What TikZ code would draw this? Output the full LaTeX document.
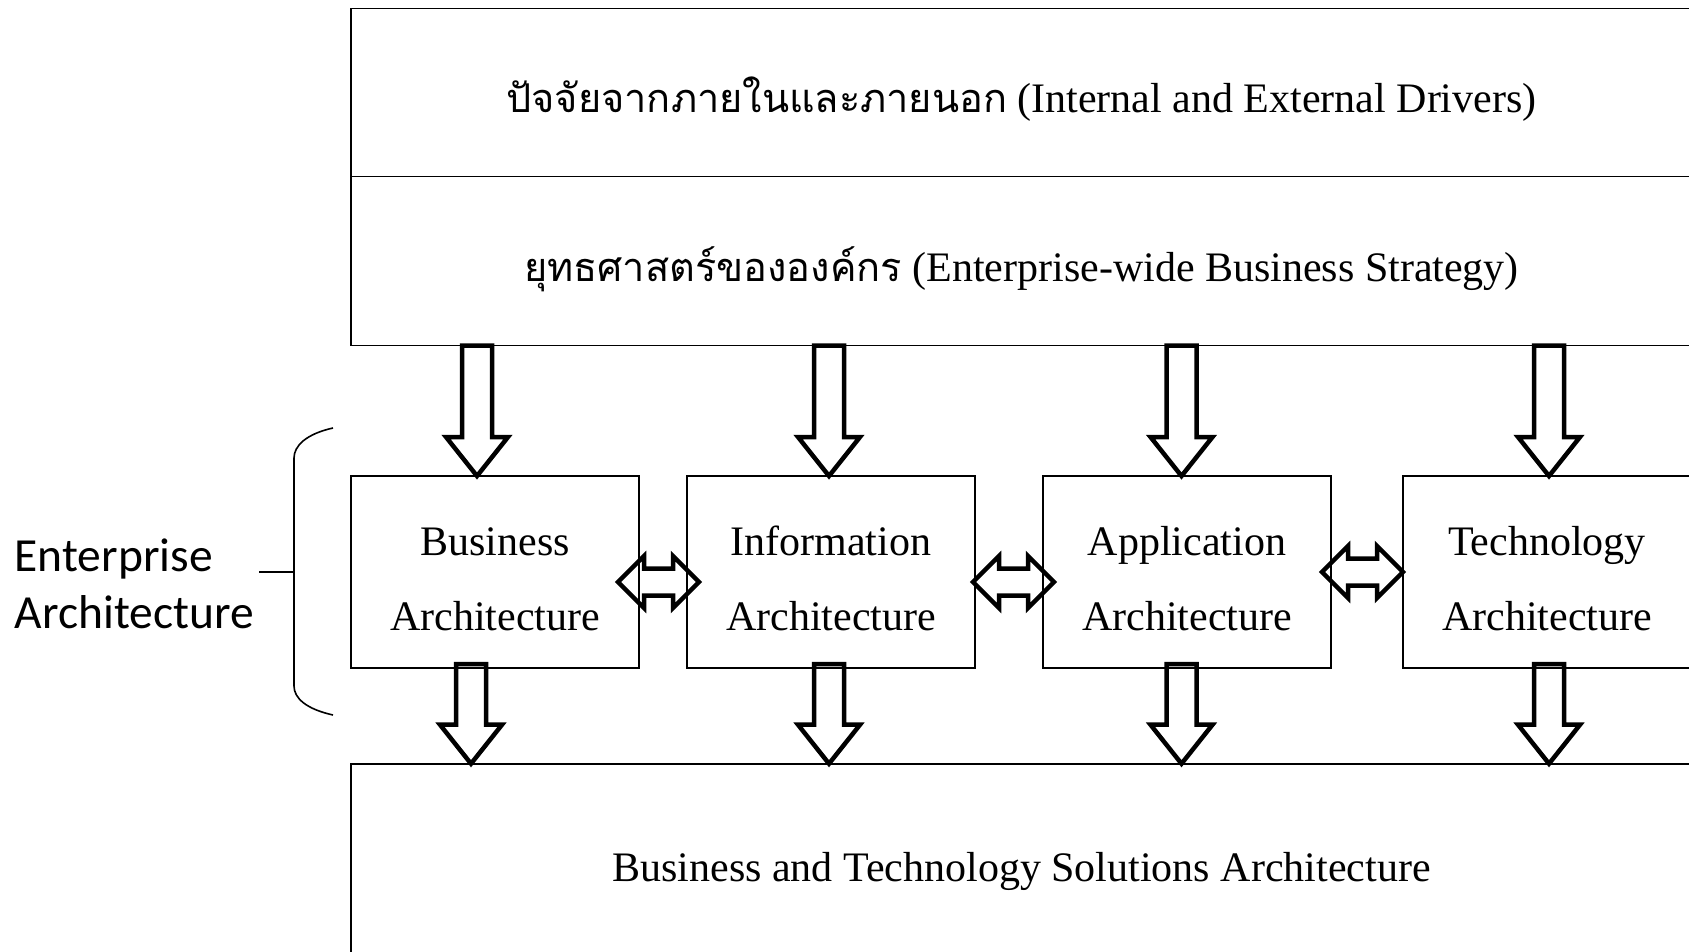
\documentclass[tikz,border=0pt]{standalone}
\usepackage{fontspec}
\setmainfont{Liberation Serif}
\newfontfamily\thaifont[Script=Thai,Scale=0.945]{Loma}
\newfontfamily\eafont{Carlito}
\usetikzlibrary{positioning,calc}

\begin{document}
\begin{tikzpicture}[x=1pt,y=-1pt,line width=1.6pt,
  widebox/.style={draw,minimum width=1341pt,inner sep=0pt,outer sep=0pt,
    text height=40pt,text depth=0pt,font=\fontsize{42}{50}\selectfont},
  archbox/.style={draw,minimum width=288pt,minimum height=192pt,inner sep=0pt,
    outer sep=0pt,align=center,font=\fontsize{42}{75}\selectfont,
    text height=117pt,text depth=0pt},
  eatext/.style={inner sep=0pt,align=left,font=\eafont\fontsize{47.5}{57}\selectfont},
  fatdown/.style={line width=4.5pt,to path={let \p1=(\tikztostart),\p2=(\tikztotarget) in
    (\x1-15pt,\y1) -- (\x1+15pt,\y1) -- (\x1+15pt,\y2+39pt) -- (\x1+31pt,\y2+39pt)
    -- (\x1,\y2) -- (\x1-31pt,\y2+39pt) -- (\x1-15pt,\y2+39pt) -- cycle}},
  fatboth/.style={line width=4.5pt,to path={let \p1=(\tikztostart),\p2=(\tikztotarget) in
    (\x1,\y1) -- (\x1+26pt,\y1-26pt) -- (\x1+26pt,\y1-13.5pt) -- (\x2-26pt,\y1-13.5pt)
    -- (\x2-26pt,\y1-26pt) -- (\x2,\y1) -- (\x2-26pt,\y1+26pt) -- (\x2-26pt,\y1+13.5pt)
    -- (\x1+26pt,\y1+13.5pt) -- (\x1+26pt,\y1+26pt) -- cycle}}]
\useasboundingbox (0,0) rectangle (1689,952);

% outer layers
\node[widebox,minimum height=168pt] (drv) at (1021.5,92.6)
  {{\thaifont ปัจจัยจากภายในและภายนอก} (Internal and External Drivers)};
\node[widebox,minimum height=169pt,below=0pt of drv] (strat)
  {{\thaifont ยุทธศาสตร์ขององค์กร} (Enterprise-wide Business Strategy)};
\node[widebox,minimum height=195pt] (sol) at (1021.5,861.2)
  {Business and Technology Solutions Architecture};

% architecture boxes
\node[archbox] (bus) at (495,572) {Business\\Architecture};
\node[archbox,right=48pt of bus] (info) {Information\\Architecture};
\node[archbox,right=68pt of info] (app) {Application\\Architecture};
\node[archbox,right=72pt of app] (tech) {Technology\\Architecture};

% brace
\node[eatext,anchor=west] (ea) at (14,583.7) {Enterprise\\Architecture};
\coordinate (brace) at (294,572);
\draw (333,428) .. controls (306,434) and (294,446) .. (294,458) -- (294,686)
  .. controls (294,698) and (306,709) .. (333,715);
\draw ([xshift=5pt]ea.east |- brace) -- (brace);

% arrows
\draw[fatdown] ([xshift=-18pt]bus.north |- strat.south) to ([xshift=-18pt]bus.north);
\draw[fatdown] ([xshift=-2pt]info.north |- strat.south) to ([xshift=-2pt]info.north);
\draw[fatdown] ([xshift=-5.5pt]app.north |- strat.south) to ([xshift=-5.5pt]app.north);
\draw[fatdown] ([xshift=2pt]tech.north |- strat.south) to ([xshift=2pt]tech.north);
\draw[fatdown] ([xshift=-24pt,yshift=4pt]bus.south) to ([xshift=-24pt]bus.south |- sol.north);
\draw[fatdown] ([xshift=-2pt,yshift=4pt]info.south) to ([xshift=-2pt]info.south |- sol.north);
\draw[fatdown] ([xshift=-5.5pt,yshift=4pt]app.south) to ([xshift=-5.5pt]app.south |- sol.north);
\draw[fatdown] ([xshift=2pt,yshift=4pt]tech.south) to ([xshift=2pt]tech.south |- sol.north);
\draw[fatboth] ([xshift=-21pt,yshift=-10pt]bus.east) to ([xshift=12pt,yshift=-10pt]info.west);
\draw[fatboth] ([xshift=-2pt,yshift=-10pt]info.east) to ([xshift=11pt,yshift=-10pt]app.west);
\draw[fatboth] ([xshift=-9pt]app.east) to (tech.west);
\end{tikzpicture}
\end{document}
